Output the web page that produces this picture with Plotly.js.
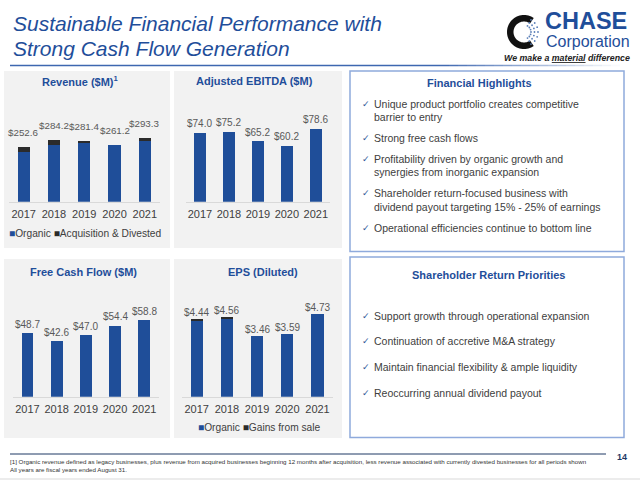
<!DOCTYPE html>
<html><head><meta charset="utf-8">
<script src="https://cdn.plot.ly/plotly-3.0.1.min.js"></script>
<style>html,body{margin:0;padding:0;background:#fff;} #chart{width:640px;height:481px;}</style>
</head><body><div id="chart"></div>
<script>
// ---------------- data ----------------
const years = ['2017', '2018', '2019', '2020', '2021'];
const revenueOrganic = [231.0, 261.2, 272.4, 261.2, 281.3];
const revenueAcqDivested = [21.6, 23.0, 9.0, 0.0, 12.0];
const revenueLabels = [252.6, 284.2, 281.4, 261.2, 293.3];
const ebitda = [74.0, 75.2, 65.2, 60.2, 78.6];
const freeCashFlow = [48.7, 42.6, 47.0, 54.4, 58.8];
const epsOrganic = [4.31, 4.41, 3.46, 3.59, 4.73];
const epsGains = [0.13, 0.15, 0.0, 0.0, 0.0];
const epsLabels = [4.44, 4.56, 3.46, 3.59, 4.73];

const financialHighlights = [
  ['Unique product portfolio creates competitive', 'barrier to entry'],
  ['Strong free cash flows'],
  ['Profitability driven by organic growth and', 'synergies from inorganic expansion'],
  ['Shareholder return-focused business with', 'dividend payout targeting 15% - 25% of earnings'],
  ['Operational efficiencies continue to bottom line']
];
const shareholderPriorities = [
  'Support growth through operational expansion',
  'Continuation of accretive M&A strategy',
  'Maintain financial flexibility & ample liquidity',
  'Reoccurring annual dividend payout'
];

// ---------------- helpers ----------------
const W = 640, H = 481;
const X = p => p / W;
const Y = p => 1 - p / H;
const FONT = 'Liberation Sans, Arial, sans-serif';
const BLUE = '#1f4e99';
const DARK = '#2b2b2b';
const TITLE_BLUE = '#1f4e9a';

const subplots = [
  {ax: 'x',  ay: 'y',  xd: [8.5, 160],   base: 201.7, top: 100, ppu: 0.2165, lab: 14.5, fs: 9.8},
  {ax: 'x2', ay: 'y2', xd: [185.5, 330.3], base: 201.7, top: 100, ppu: 0.93, lab: 9, fs: 10},
  {ax: 'x3', ay: 'y3', xd: [12.9, 158.8], base: 396.7, top: 295, ppu: 1.303, lab: 9, fs: 10},
  {ax: 'x4', ay: 'y4', xd: [181.6, 332.6], base: 396.7, top: 295, ppu: 17.55, lab: 6.5, fs: 10}
];

const layout = {
  width: W, height: H,
  margin: {l: 0, r: 0, t: 0, b: 0},
  paper_bgcolor: '#ffffff',
  plot_bgcolor: 'rgba(0,0,0,0)',
  barmode: 'stack',
  showlegend: false,
  font: {family: FONT},
  shapes: [],
  annotations: []
};

subplots.forEach((s, i) => {
  const k = i === 0 ? '' : String(i + 1);
  layout['xaxis' + k] = {
    domain: [X(s.xd[0]), X(s.xd[1])], anchor: s.ay, type: 'category',
    categoryorder: 'array', categoryarray: years,
    range: [-0.5, years.length - 0.5], autorange: false,
    showline: true, linecolor: '#d9d9d9', linewidth: 1,
    showgrid: false, zeroline: false, ticks: '', ticklabelstandoff: 2,
    tickfont: {family: FONT, size: 11, color: '#404040'}, fixedrange: true
  };
  layout['yaxis' + k] = {
    domain: [Y(s.base), Y(s.top)], anchor: s.ax, autorange: false,
    range: [0, (s.base - s.top) / s.ppu], visible: false, fixedrange: true
  };
});

const traces = [
  {type: 'bar', x: years, y: revenueOrganic, xaxis: 'x', yaxis: 'y', width: 0.4, marker: {color: BLUE}, name: 'Organic'},
  {type: 'bar', x: years, y: revenueAcqDivested, xaxis: 'x', yaxis: 'y', width: 0.4, marker: {color: DARK}, name: 'Acquisition & Divested'},
  {type: 'bar', x: years, y: ebitda, xaxis: 'x2', yaxis: 'y2', width: 0.4, marker: {color: BLUE}},
  {type: 'bar', x: years, y: freeCashFlow, xaxis: 'x3', yaxis: 'y3', width: 0.4, marker: {color: BLUE}},
  {type: 'bar', x: years, y: epsOrganic, xaxis: 'x4', yaxis: 'y4', width: 0.4, marker: {color: BLUE}, name: 'Organic'},
  {type: 'bar', x: years, y: epsGains, xaxis: 'x4', yaxis: 'y4', width: 0.4, marker: {color: DARK}, name: 'Gains from sale'}
];
traces.forEach(t => { t.hoverinfo = 'skip'; t.marker.line = {width: 0}; });

// data labels
const labelSets = [
  {vals: revenueLabels, s: subplots[0], fmt: v => '$' + v.toFixed(1)},
  {vals: ebitda, s: subplots[1], fmt: v => '$' + v.toFixed(1)},
  {vals: freeCashFlow, s: subplots[2], fmt: v => '$' + v.toFixed(1)},
  {vals: epsLabels, s: subplots[3], fmt: v => '$' + v.toFixed(2)}
];
labelSets.forEach(ls => {
  ls.vals.forEach((v, j) => {
    layout.annotations.push({
      xref: ls.s.ax, yref: ls.s.ay, x: j, y: v,
      text: ls.fmt(v), showarrow: false, yanchor: 'middle', xanchor: 'center',
      yshift: ls.s.lab, borderpad: 0, font: {family: FONT, size: ls.s.fs, color: '#595959'}
    });
  });
});

// panel backgrounds
const panels = [[4, 71, 170, 248], [174, 71, 342, 248], [4, 259, 170, 438], [174, 259, 342, 438]];
panels.forEach(p => layout.shapes.push({
  type: 'rect', xref: 'paper', yref: 'paper', x0: X(p[0]), x1: X(p[2]), y0: Y(p[1]), y1: Y(p[3]),
  fillcolor: '#f2f2f2', line: {width: 0}, layer: 'below'
}));
// text boxes
[[350, 71, 624, 251.5], [350, 257, 624, 437.5]].forEach(p => layout.shapes.push({
  type: 'rect', xref: 'paper', yref: 'paper', x0: X(p[0]), x1: X(p[2]), y0: Y(p[1]), y1: Y(p[3]),
  fillcolor: '#ffffff', line: {width: 1.5, color: '#8faadc'}, layer: 'below'
}));

// title rule with fade
layout.shapes.push({type: 'line', xref: 'paper', yref: 'paper', x0: X(10), x1: X(440), y0: Y(65.5), y1: Y(65.5), line: {color: '#3d67b0', width: 1.5}});
for (let i = 0; i < 20; i++) {
  const a = 440 + i * 9;
  layout.shapes.push({type: 'line', xref: 'paper', yref: 'paper', x0: X(a), x1: X(a + 9), y0: Y(65.5), y1: Y(65.5),
    line: {color: '#3d67b0', width: 1.5}, opacity: 1 - (i + 0.5) / 20});
}
// footer rules
layout.shapes.push({type: 'line', xref: 'paper', yref: 'paper', x0: X(10), x1: X(606), y0: Y(454), y1: Y(454), line: {color: '#1f3864', width: 1}});
layout.shapes.push({type: 'line', xref: 'paper', yref: 'paper', x0: X(0), x1: X(640), y0: Y(479), y1: Y(479), line: {color: '#d9d9d9', width: 1}});

// logo icon: black "C" ring + dots
(function () {
  const cx = 524, cy = 32, ro = 17, ri = 10.5;
  let pts = [];
  const a0 = 55, a1 = 305;
  for (let a = a0; a <= a1; a += 5) { const r = a * Math.PI / 180; pts.push([cx + ro * Math.cos(r), cy - ro * Math.sin(r)]); }
  for (let a = a1; a >= a0; a -= 5) { const r = a * Math.PI / 180; pts.push([cx + ri * Math.cos(r), cy - ri * Math.sin(r)]); }
  const path = 'M' + pts.map(p => X(p[0]).toFixed(5) + ',' + Y(p[1]).toFixed(5)).join('L') + 'Z';
  layout.shapes.push({type: 'path', xref: 'paper', yref: 'paper', path: path, fillcolor: '#111111', line: {width: 0}});
  for (let a = -60; a <= 60; a += 20) {
    [7, 10.5, 14].forEach(r => {
      const rr = a * Math.PI / 180, x = cx + r * Math.cos(rr), y = cy - r * Math.sin(rr);
      layout.shapes.push({type: 'circle', xref: 'paper', yref: 'paper', x0: X(x - 0.9), x1: X(x + 0.9), y0: Y(y - 0.9), y1: Y(y + 0.9),
        fillcolor: '#5b7fb8', line: {width: 0}});
    });
  }
})();

function ann(x, y, text, size, color, opts) {
  layout.annotations.push(Object.assign({
    xref: 'paper', yref: 'paper', x: X(x), y: Y(y), text: text, showarrow: false,
    xanchor: 'left', yanchor: 'middle', borderpad: 0, font: {family: FONT, size: size, color: color}
  }, opts || {}));
}

// slide title + logo
ann(12, 23, '<i>Sustainable Financial Performance with</i>', 21, TITLE_BLUE);
ann(12, 49, '<i>Strong Cash Flow Generation</i>', 21, TITLE_BLUE);
ann(544, 21, '<b>CHASE</b>', 23.5, TITLE_BLUE);
ann(545, 41.5, 'Corporation', 16, TITLE_BLUE);
ann(503, 57.5, '<b><i>We make a <u>material</u> difference</i></b>', 8.8, '#222222');

// panel titles
ann(80, 81, '<b>Revenue ($M)<sup>1</sup></b>', 11, TITLE_BLUE, {xanchor: 'center'});
ann(254, 81, '<b>Adjusted EBITDA ($M)</b>', 11, TITLE_BLUE, {xanchor: 'center'});
ann(83, 272.3, '<b>Free Cash Flow ($M)</b>', 11, TITLE_BLUE, {xanchor: 'center'});
ann(263, 272.3, '<b>EPS (Diluted)</b>', 11, TITLE_BLUE, {xanchor: 'center'});

// legends
ann(85.5, 233, '<span style="color:' + BLUE + '">■</span>Organic <span style="color:' + DARK + '">■</span>Acquisition &amp; Divested', 10.2, '#404040', {xanchor: 'center'});
ann(259, 427.7, '<span style="color:' + BLUE + '">■</span>Organic <span style="color:' + DARK + '">■</span>Gains from sale', 10.2, '#404040', {xanchor: 'center'});

// text boxes
ann(479, 83.3, '<b>Financial Highlights</b>', 11, TITLE_BLUE, {xanchor: 'center'});
ann(488, 275, '<b>Shareholder Return Priorities</b>', 11, TITLE_BLUE, {xanchor: 'center'});
const fhY = [[104, 116.7], [137.7], [159.3, 172.3], [193.3, 206.7], [228.3]];
financialHighlights.forEach((lines, i) => {
  ann(361, fhY[i][0], '✓', 9, '#2f5597');
  lines.forEach((ln, j) => ann(373, fhY[i][j], ln, 10.5, '#404040'));
});
const spY = [315.7, 341, 367.3, 392.7];
shareholderPriorities.forEach((ln, i) => {
  ann(361, spY[i], '✓', 9, '#2f5597');
  ann(373, spY[i], ln, 10.5, '#404040');
});

// footer
ann(9, 461.5, '[1] Organic revenue defined as legacy businesses, plus revenue from acquired businesses beginning 12 months after acquisition, less revenue associated with currently divested businesses for all periods shown', 6.2, '#333333');
ann(9, 469.5, 'All years are fiscal years ended August 31.', 6.2, '#333333');
ann(628, 457, '<b>14</b>', 9, '#1f3864', {xanchor: 'right'});

Plotly.newPlot('chart', traces, layout, {staticPlot: true, displayModeBar: false});
</script>
</body></html>
